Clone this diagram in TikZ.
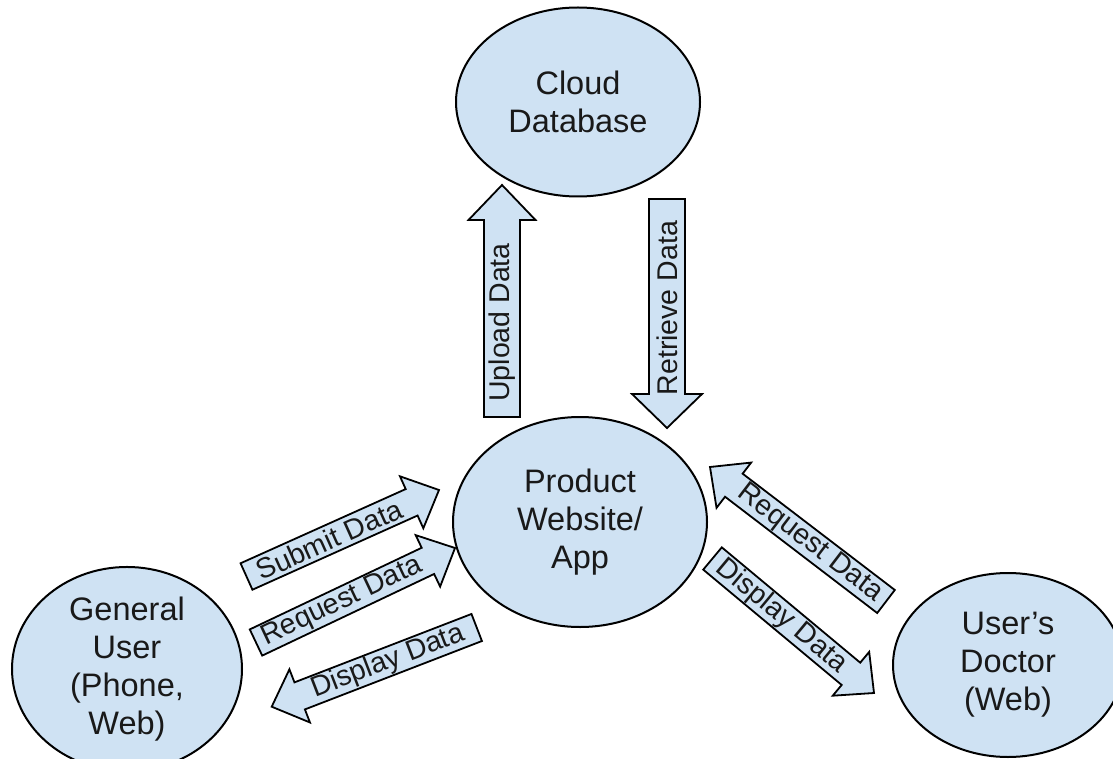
\documentclass[tikz,border=0pt]{standalone}
\usepackage{fontspec}
\setmainfont{Liberation Sans}
\usetikzlibrary{shapes.geometric,calc}
\definecolor{lblue}{HTML}{CFE2F3}
\tikzset{
  ell/.style={ellipse, draw=black, line width=2pt, fill=lblue, inner sep=0pt, align=center, text=black!90, font=\fontsize{32.5}{38}\selectfont},
  barrow/.style={draw=black, line width=1.8pt, fill=lblue, line join=miter},
  btext/.style={inner sep=0pt, text=black!90, font=\fontsize{28.5}{30}\selectfont}
}
% name, tail, tip, shaft half width, head half width, head length, text angle, text position (0..1 along shaft), text
\newcommand\blockarrow[9]{%
  \coordinate (#1-c) at ($(#3)!#6!(#2)$);
  \draw[barrow] ($(#2)!#4!90:(#3)$) -- ($(#1-c)!#4!90:(#3)$) -- ($(#1-c)!#5!90:(#3)$) -- (#3)
     -- ($(#1-c)!#5!-90:(#3)$) -- ($(#1-c)!#4!-90:(#3)$) -- ($(#2)!#4!-90:(#3)$) -- cycle;
  \node[btext, rotate=#7] (#1) at ($(#2)!#8!(#1-c)$) {#9};
}
\begin{document}
\begin{tikzpicture}[x=1pt, y=-1pt]
\useasboundingbox (0,0) rectangle (1113,759);

\node[ell, minimum width=244pt, minimum height=189pt] (cloud) at (578,102) {Cloud\\Database};
\node[ell, minimum width=254pt, minimum height=210pt] (prod) at (580,522) {Product\\Website/\\App};
\node[ell, minimum width=230pt, minimum height=178pt] (gen) at (127,669) {General\\User\\(Phone,\\Web)};
\node[ell, minimum width=230pt, minimum height=184pt] (doc) at (1008,665) {User’s\\Doctor\\(Web)};

\coordinate (upA) at (502,417);     \coordinate (upB) at (502,185);
\coordinate (retA) at (667,199);    \coordinate (retB) at (667,428);
\coordinate (subA) at (246.5,576.5); \coordinate (subB) at (439,490);
\coordinate (rqlA) at (256,642.5);  \coordinate (rqlB) at (455,548);
\coordinate (dslA) at (476.7,627.5); \coordinate (dslB) at (271.7,706.7);
\coordinate (rqrA) at (886,601.5);  \coordinate (rqrB) at (710,467);
\coordinate (dsrA) at (712.5,558.5); \coordinate (dsrB) at (874,693);

\blockarrow{upload}{upA}{upB}{18pt}{33.5pt}{35pt}{90}{0.48}{Upload Data}
\blockarrow{retrieve}{retA}{retB}{18pt}{35pt}{34pt}{90}{0.56}{Retrieve Data}
\blockarrow{submit}{subA}{subB}{14.5pt}{28.5pt}{30pt}{24.2}{0.5}{Submit Data}
\blockarrow{reqL}{rqlA}{rqlB}{14.5pt}{28.5pt}{30pt}{25.3}{0.5}{Request Data}
\blockarrow{dispL}{dslA}{dslB}{14.5pt}{28.5pt}{30pt}{21.1}{0.5}{Display Data}
\blockarrow{reqR}{rqrA}{rqrB}{14.5pt}{28.5pt}{30pt}{-37.4}{0.5}{Request Data}
\blockarrow{dispR}{dsrA}{dsrB}{14.5pt}{28.5pt}{30pt}{-39.8}{0.5}{Display Data}
\end{tikzpicture}
\end{document}
